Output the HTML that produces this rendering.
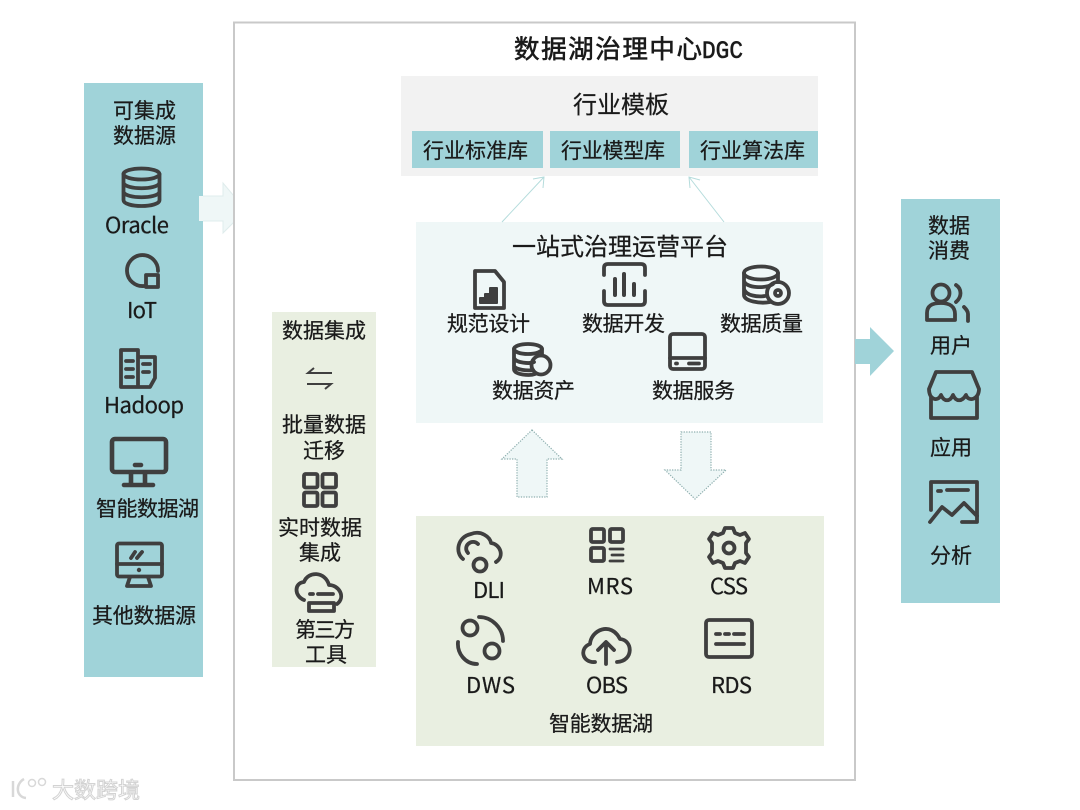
<!DOCTYPE html>
<html><head><meta charset="utf-8"><style>
html,body{margin:0;padding:0;background:#fff;width:1080px;height:810px;overflow:hidden}
svg{display:block}
text{font-family:"Liberation Sans","Noto Sans CJK SC",sans-serif;font-size:21px;fill:#1a1a1a;stroke:#1a1a1a;stroke-width:.25}
.n{font-family:"Noto Sans CJK SC",sans-serif}
.i{fill:none;stroke:#3f3f3f;stroke-width:3.8;stroke-linecap:round;stroke-linejoin:round}
.d{fill:#eff7f7;stroke:#8fb0b0;stroke-width:1.2;stroke-dasharray:1.3 1.3}
</style></head><body>
<svg width="1080" height="810" viewBox="0 0 1080 810" xmlns="http://www.w3.org/2000/svg">
<rect width="1080" height="810" fill="#fff"/>
<polygon points="199,196 223,196 223,183 234,196 234,222 223,233 223,221 199,221" fill="#eff7f7" stroke="#dfecec"/>
<rect x="234" y="22.500" width="621" height="757.500" fill="none" stroke="#c9c9c9" stroke-width="2"/>
<rect x="84" y="83" width="119" height="594" fill="#a0d3d9"/>
<rect x="199" y="196" width="4" height="25" fill="#eff7f7"/>
<rect x="901" y="199" width="99" height="404" fill="#a0d3d9"/>
<polygon points="855,339 870,339 870,327 894,351 870,376 870,364 855,364" fill="#a0d3d9"/>
<rect x="401" y="76" width="417" height="100" fill="#f2f2f2"/>
<rect x="412" y="131" width="131" height="37" fill="#a0d3d9"/>
<rect x="550" y="131" width="130" height="37" fill="#a0d3d9"/>
<rect x="689" y="131" width="129" height="37" fill="#a0d3d9"/>
<rect x="416" y="222" width="407" height="201" fill="#eff7f7"/>
<rect x="416" y="516" width="408" height="230" fill="#e9efe1"/>
<rect x="272" y="312" width="104" height="355" fill="#e9efe1"/>

<g fill="none" stroke="#b5dcdc" stroke-width="1">
<path d="M502 222L544 177M533 179L544 177L543 188"/>
<path d="M724 222L689 177M700 180L689 177L690 188"/>
</g>
<polygon class="d" points="532,430 562,459 547,459 547,497 517,497 517,459 502,459"/>
<polygon class="d" points="681,432 711,432 711,470 726,470 695,499 665,470 681,470"/>

<text class="n" x="514" y="58" style="font-size:25.500px;stroke-width:.6" textLength="188" lengthAdjust="spacing">数据湖治理中心</text>
<text x="702" y="58" style="font-size:25px;font-family:'Liberation Mono',monospace;stroke-width:.6" textLength="41" lengthAdjust="spacingAndGlyphs">DGC</text>
<text class="n" x="573" y="113" style="font-size:24px" textLength="96">行业模板</text>
<text class="n" x="423" y="158" textLength="105">行业标准库</text>
<text class="n" x="561" y="158" textLength="104">行业模型库</text>
<text class="n" x="700" y="158" textLength="105">行业算法库</text>

<!-- left panel -->
<text class="n" x="113" y="118" textLength="63">可集成</text>
<text class="n" x="113" y="143" textLength="63">数据源</text>
<text class="n" x="105" y="233" style="font-size:22px" textLength="64">Oracle</text>
<text class="n" x="127" y="318" style="font-size:22px" textLength="30">IoT</text>
<text class="n" x="104" y="413" style="font-size:22px" textLength="80">Hadoop</text>
<text class="n" x="96" y="516" textLength="103">智能数据湖</text>
<text class="n" x="92" y="623" textLength="104">其他数据源</text>

<g class="i">
<ellipse cx="141.500" cy="174" rx="18" ry="5.500"/>
<path d="M123.500 174V200C123.500 208 159.500 208 159.500 200V174M123.500 183C126 190 157 190 159.500 183M123.500 192C126 199 157 199 159.500 192"/>
<path d="M144 286A15.500 15.500 0 1 1 158 271"/>
<rect x="146" y="275" width="12" height="12"/>
<path d="M121 387V350H138V387ZM138 357H155V378L150 387H121M126 361H133M126 369H133M126 377H133M143 364H150M143 372H149" />
</g>
<g fill="none" stroke="#3f3f3f" stroke-width="4.600" stroke-linecap="round" stroke-linejoin="round">
<rect x="112" y="439" width="54" height="33" rx="3"/>
<path d="M135 465H141M131 473V485M145 473V485M124 485H153"/>
<rect x="117" y="543.500" width="45" height="33" rx="2" stroke-width="3.800"/>
<path d="M117 564H162M130 577L127 586H151L148 577M131 558L135 552M137 558L142 552" stroke-width="3.800"/>
</g>
<circle cx="139" cy="570" r="2.200" fill="#3f3f3f"/>

<!-- integration -->
<text class="n" x="282" y="338" textLength="84">数据集成</text>
<text class="n" x="282" y="432" textLength="84">批量数据</text>
<text class="n" x="303" y="458" textLength="42">迁移</text>
<text class="n" x="278" y="535" textLength="84">实时数据</text>
<text class="n" x="299" y="560" textLength="42">集成</text>
<text class="n" x="295" y="637" textLength="60">第三方</text>
<text class="n" x="305" y="662" textLength="42">工具</text>
<g fill="none" stroke="#3f3f3f" stroke-width="2">
<path d="M332 373H308L314 368"/>
<path d="M307 384H331L325 389"/>
</g>
<g class="i">
<rect x="304" y="474" width="13.500" height="13.500" rx="1.500"/>
<rect x="322.500" y="474" width="13.500" height="13.500" rx="1.500"/>
<rect x="304" y="492.500" width="13.500" height="13.500" rx="1.500"/>
<rect x="322.500" y="492.500" width="13.500" height="13.500" rx="1.500"/>
<path d="M304 600C294 596 294 583 304 582C308 571 325 571 329 585C339 585 346 597 337 604"/>
<path d="M310 594H313M318 594H333M309 603H334V611H309Z"/>
</g>

<!-- platform -->
<text class="n" x="512" y="255" style="font-size:24px" textLength="216">一站式治理运营平台</text>
<text class="n" x="447" y="331" textLength="83">规范设计</text>
<text class="n" x="582" y="331" textLength="83">数据开发</text>
<text class="n" x="720" y="331" textLength="83">数据质量</text>
<text class="n" x="492" y="398" textLength="83">数据资产</text>
<text class="n" x="652" y="398" textLength="83">数据服务</text>
<g class="i">
<path d="M475 271H495L504 282V308H475Z"/>
<path d="M480 303V298H485V294H490V288H497V303Z" fill="#3f3f3f" stroke-width="2"/>
<path d="M604 275V268Q604 264 608 264H641Q645 264 645 268V275M604 291V301Q604 305 608 305H641Q645 305 645 301V291"/>
<path d="M615 279V295M624 274V295M634 284V295" stroke-width="4"/>
<ellipse cx="761" cy="273" rx="17" ry="6.500"/>
<path d="M744 273V295C744 301 760 304 770 302M778 273V282M744 281C746 288 765 289 773 284M744 289C746 296 758 297 765 296"/>
<circle cx="778" cy="293" r="11"/>
<circle cx="778" cy="293" r="3"/>
<ellipse cx="528" cy="349" rx="14" ry="5"/>
<path d="M514 349V369C514 375 530 376 535 374M542 349V354M514 358C516 363 530 364 534 362M514 366C516 370 528 371 533 370"/>
<circle cx="541" cy="365" r="9.500"/>
<rect x="670" y="334" width="35" height="35" rx="3"/>
<path d="M670 358H705"/>
<path d="M676 363.500H677M689 363.500H699"/>

<!-- lake -->
<path d="M463 559C455 553 457 537 471 534C481 530 490 537 491 543C500 544 505 556 496 562"/>
<path d="M468 553C462 546 472 538 478 544"/>
<circle cx="480" cy="565" r="6.500"/>
<rect x="591" y="529" width="13" height="13" rx="1.500"/>
<rect x="610" y="529" width="13" height="13" rx="1.500"/>
<rect x="591" y="548" width="13" height="13" rx="1.500"/>
<path d="M610 549H623M612 555H623M610 561H623" stroke-width="2.800"/>
<circle cx="729" cy="548" r="5.500"/>
<path d="M725 528H733L735 533L740 535L745 533L749 539L746 543V553L749 557L745 563L740 561L735 563L733 568H725L723 563L718 561L713 563L709 557L712 553V543L709 539L713 533L718 535L723 533Z"/>
<circle cx="470" cy="628" r="7.500"/>
<circle cx="492" cy="651" r="7.500"/>
<path d="M479 617C492 617 503 628 503 641M477 664C465 664 457 653 458 642"/>
<path d="M595 662C582 663 579 648 590 644C591 630 611 621 620 639C633 640 634 661 617 662"/>
<path d="M606 664V643M598 650L606 642L614 650"/>
<rect x="706" y="620" width="46" height="37" rx="3"/>
<path d="M716 634H720M725 634H729M734 634H744M716 644H744"/>

<!-- right -->
<circle cx="941" cy="293" r="8.500"/>
<path d="M956 285C962 289 962 297 956 302"/>
<path d="M927 320V313C927 305 933 303 941 303C950 303 955 307 955 314V320ZM968 321V314C968 311 966 309 964 307"/>
<path d="M936 372H972L979 389C979 400 968 402 966 395C962 402 956 402 953 395C950 402 944 402 941 395C938 402 929 400 929 389ZM931 397V418H977V397"/>
<path d="M931 482H977V522H962M931 482V510M938 491H941M947 490H968"/>
<path d="M930 522L942 507L952 515L964 503L977 516"/>
</g>
<text class="n" x="473" y="598" style="font-size:22px" textLength="32">DLI</text>
<text class="n" x="587" y="594" style="font-size:22px" textLength="46">MRS</text>
<text class="n" x="710" y="594" style="font-size:22px" textLength="38">CSS</text>
<text class="n" x="466" y="693" style="font-size:22px" textLength="49">DWS</text>
<text class="n" x="586" y="693" style="font-size:22px" textLength="42">OBS</text>
<text class="n" x="711" y="693" style="font-size:22px" textLength="41">RDS</text>
<text class="n" x="549" y="731" textLength="104">智能数据湖</text>
<text class="n" x="928" y="233" textLength="42">数据</text>
<text class="n" x="928" y="258" textLength="42">消费</text>
<text class="n" x="930" y="353" textLength="42">用户</text>
<text class="n" x="930" y="455" textLength="42">应用</text>
<text class="n" x="930" y="563" textLength="42">分析</text>

<!-- watermark -->
<g style="opacity:.9">
<text class="n" x="52" y="798" style="font-size:22px;fill:#fff;stroke:#cfcfcf;stroke-width:1" textLength="88">大数跨境</text>
<path d="M13 781V797M24 779C15 784 16 797 26 798" fill="none" stroke="#d4d4d4" stroke-width="2.500"/>
<circle cx="32" cy="783" r="3.500" fill="none" stroke="#d4d4d4" stroke-width="1.500"/>
<circle cx="42" cy="782" r="3.500" fill="none" stroke="#d4d4d4" stroke-width="1.500"/>
</g>
</svg>
</body></html>
